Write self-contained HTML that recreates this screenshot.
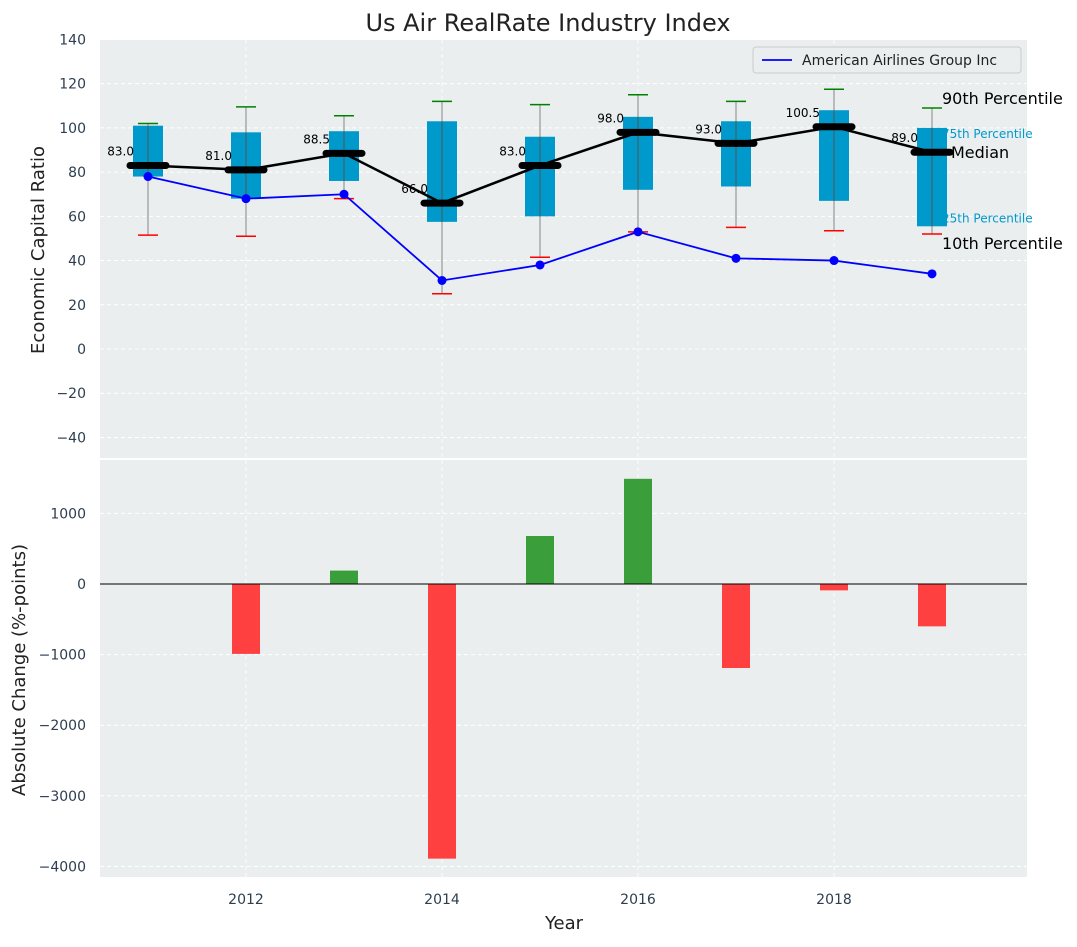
<!DOCTYPE html>
<html><head><meta charset="utf-8"><style>
body{margin:0;background:#fff;font-family:"Liberation Sans","DejaVu Sans",sans-serif}
svg text{font-family:"DejaVu Sans","Liberation Sans",sans-serif}
</style></head><body>
<svg id="c" width="1077" height="942" xmlns="http://www.w3.org/2000/svg"></svg>
<script>
const years=[2011,2012,2013,2014,2015,2016,2017,2018,2019];
const q1=[78,68,76,57.5,60,72,73.5,67,55.5];
const q3=[101,98,98.5,103,96,105,103,108,100];
const med=[83,81,88.5,66,83,98,93,100.5,89];
const p10=[51.5,51,68,25,41.5,53,55,53.5,52];
const p90=[102,109.5,105.5,112,110.5,115,112,117.5,109];
const aa=[78,68,70,31,38,53,41,40,34];
const chgYears=[2012,2013,2014,2015,2016,2017,2018,2019];
const chg=[-990,190,-3890,680,1490,-1190,-90,-600];
const yTicksTop=[-40,-20,0,20,40,60,80,100,120,140];
const yTicksBot=[-4000,-3000,-2000,-1000,0,1000];
const xTicks=[2012,2014,2016,2018];

const NS="http://www.w3.org/2000/svg",svg=document.getElementById('c');
function el(t,a,p){const e=document.createElementNS(NS,t);for(const k in a)e.setAttribute(k,a[k]);(p||svg).appendChild(e);return e;}
const L=100,R=1027;
const x=v=>148+(v-2011)*98;
const yT=v=>349-v*2.211;
const yB=v=>584-v*0.0706;
let bg=el('rect',{x:L,y:40,width:R-L,height:418,fill:'#eaeeee'});

let bg2=el('rect',{x:L,y:460,width:R-L,height:417,fill:'#eaeeee'});

yTicksTop.forEach(v=>{el('line',{x1:L,x2:R,y1:yT(v),y2:yT(v),stroke:'#fff','stroke-dasharray':'4,3'});
 const t=el('text',{x:86,y:yT(v)+5,'text-anchor':'end','font-size':14,fill:'#2d3e50'});t.textContent=v<0?'\u2212'+(-v):v;
 });
yTicksBot.forEach(v=>{el('line',{x1:L,x2:R,y1:yB(v),y2:yB(v),stroke:'#fff','stroke-dasharray':'4,3'});
 const t=el('text',{x:86,y:yB(v)+5,'text-anchor':'end','font-size':14,fill:'#2d3e50'});t.textContent=v<0?'\u2212'+(-v):v;
 });
xTicks.forEach(v=>{el('line',{x1:x(v),x2:x(v),y1:40,y2:458,stroke:'#fff','stroke-dasharray':'4,3'});
 el('line',{x1:x(v),x2:x(v),y1:460,y2:877,stroke:'#fff','stroke-dasharray':'4,3'});
 const t=el('text',{x:x(v),y:904,'text-anchor':'middle','font-size':14,fill:'#2d3e50'});t.textContent=v;
 });
// annotations (drawn before boxes so boxes overlap small labels)
const last=years.length-1,lx=x(years[last])+10;
[[p90[last],'90th Percentile',16,'#000',0,-4],[q3[last],'75th Percentile',12,'#0099cc',0,10],[med[last],'Median',16,'#000',9,6],[q1[last],'25th Percentile',12,'#0099cc',0,-4],[p10[last],'10th Percentile',16,'#000',0,15]].forEach(a=>{
 const t=el('text',{x:lx+a[4],y:yT(a[0])+a[5],'font-size':a[2],fill:a[3]});t.textContent=a[1];
 });
years.forEach((yr,i)=>{const cx=x(yr);
 el('line',{x1:cx,x2:cx,y1:yT(p10[i]),y2:yT(p90[i]),stroke:'#888','stroke-width':1});
 const b=el('rect',{x:cx-15,y:yT(q3[i]),width:30,height:yT(q1[i])-yT(q3[i]),fill:'#0099cc'});
 
 el('line',{x1:cx,x2:cx,y1:yT(q1[i]),y2:yT(q3[i]),stroke:'#555','stroke-width':1});
 el('line',{x1:cx-10,x2:cx+10,y1:yT(p90[i]),y2:yT(p90[i]),stroke:'green','stroke-width':1.5});
 el('line',{x1:cx-10,x2:cx+10,y1:yT(p10[i]),y2:yT(p10[i]),stroke:'red','stroke-width':1.5});
});
el('polyline',{points:years.map((yr,i)=>x(yr)+','+yT(med[i])).join(' '),fill:'none',stroke:'#000','stroke-width':2.5});
years.forEach((yr,i)=>{const cx=x(yr);
 const m=el('line',{x1:cx-18,x2:cx+18,y1:yT(med[i]),y2:yT(med[i]),stroke:'#000','stroke-width':7,'stroke-linecap':'round'});
 
 const t=el('text',{x:cx-14,y:yT(med[i])-10,'text-anchor':'end','font-size':12,fill:'#000'});t.textContent=med[i].toFixed(1);
 });
el('polyline',{points:years.map((yr,i)=>x(yr)+','+yT(aa[i])).join(' '),fill:'none',stroke:'blue','stroke-width':1.8});
years.forEach((yr,i)=>{const p=el('circle',{cx:x(yr),cy:yT(aa[i]),r:4.5,fill:'blue'});
 });
chgYears.forEach((yr,i)=>{const v=chg[i];const b=el('rect',{x:x(yr)-14,y:Math.min(yB(v),yB(0)),width:28,height:Math.abs(yB(v)-yB(0)),fill:v>=0?'#3a9e3a':'#ff4040'});
 });
el('line',{x1:L,x2:R,y1:yB(0),y2:yB(0),stroke:'#000','stroke-width':1});
const lg=el('g',{});
el('rect',{x:753,y:47,width:268,height:26,fill:'#eaeeee',stroke:'#ccc',rx:3},lg);
el('line',{x1:762,x2:792,y1:60,y2:60,stroke:'blue','stroke-width':1.8},lg);
const lt=el('text',{x:802,y:65,'font-size':14,fill:'#222'},lg);lt.textContent='American Airlines Group Inc';
let t=el('text',{x:548,y:31,'text-anchor':'middle','font-size':24,fill:'#222'});t.textContent='Us Air RealRate Industry Index';

t=el('text',{x:44,y:250,'text-anchor':'middle','font-size':18,fill:'#222',transform:'rotate(-90 44 250)'});t.textContent='Economic Capital Ratio';

t=el('text',{x:25,y:670,'text-anchor':'middle','font-size':18,fill:'#222',transform:'rotate(-90 25 670)'});t.textContent='Absolute Change (%-points)';

t=el('text',{x:564,y:929,'text-anchor':'middle','font-size':18,fill:'#222'});t.textContent='Year';

</script>
</body></html>
